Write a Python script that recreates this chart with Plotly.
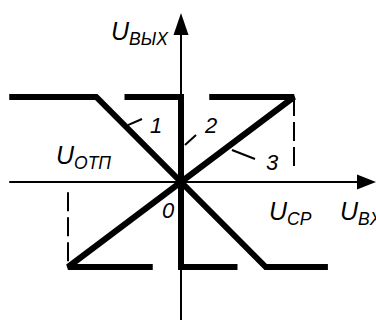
import plotly.graph_objects as go

# характеристики (в относительных единицах: насыщение = 1, U_ср = 1)
x1 = [-1.52, -0.75, 0.75, 1.3]
y1 = [1, 1, -1, -1]
x2 = [-0.5, 0, 0, 0.5]
y2 = [1, 1, -1, -1]
x3 = [-0.25, -1, 1, 0.25]
y3 = [-1, -1, 1, 1]

# пунктирные выноски
dash_x = [[1, 1], [-1, -1]]
dash_y = [[1, 0.12], [-0.12, -1]]

# оси
axis_x = [-1.52, 1.6]
axis_y = [-1.7, 1.8]

# выноски номеров кривых
leader_x = [[-0.47, -0.345], [0.035, 0.133], [0.451, 0.655]]
leader_y = [[0.67, 0.741], [0.435, 0.553], [0.376, 0.27]]
numbers = ["1", "2", "3"]
num_pos = [(-0.22, 0.67), (0.26, 0.67), (0.81, 0.235)]

# пиксели на единицу
kx = 113.0
ky = 85.0

fig = go.Figure()

black = "#000000"

# ось X и ось Y
fig.add_trace(go.Scatter(x=axis_x, y=[0, 0], mode="lines",
                         line=dict(color=black, width=2)))
fig.add_trace(go.Scatter(x=[0, 0], y=axis_y, mode="lines",
                         line=dict(color=black, width=2)))
# стрелки
tip_x = 195 / kx
tip_y = 169 / ky
fig.add_trace(go.Scatter(x=[tip_x, tip_x - 19 / kx, tip_x - 19 / kx, tip_x],
                         y=[0, 7.5 / ky, -7.5 / ky, 0],
                         mode="lines", fill="toself", fillcolor=black,
                         line=dict(color=black, width=0)))
fig.add_trace(go.Scatter(x=[0, 7.5 / kx, -7.5 / kx, 0],
                         y=[tip_y, tip_y - 22 / ky, tip_y - 22 / ky, tip_y],
                         mode="lines", fill="toself", fillcolor=black,
                         line=dict(color=black, width=0)))

# пунктир
for dx, dy in zip(dash_x, dash_y):
    fig.add_trace(go.Scatter(x=dx, y=dy, mode="lines",
                             line=dict(color=black, width=2, dash="19px,6px")))

# выноски
for lx, ly in zip(leader_x, leader_y):
    fig.add_trace(go.Scatter(x=lx, y=ly, mode="lines",
                             line=dict(color=black, width=2)))

# кривые 1, 2, 3
for xx, yy in [(x1, y1), (x2, y2), (x3, y3)]:
    fig.add_trace(go.Scatter(x=xx, y=yy, mode="lines",
                             line=dict(color=black, width=6)))

font_u = dict(family="Liberation Sans, Arial", size=25, color=black)
font_n = dict(family="Liberation Sans, Arial", size=22, color=black)

ann = []
for t, (ax_, ay_) in zip(numbers, num_pos):
    ann.append(dict(x=ax_, y=ay_, text="<i>" + t + "</i>", showarrow=False, font=font_n))
ann.append(dict(x=-0.115, y=-0.34, text="<i>0</i>", showarrow=False, font=font_n))
ann.append(dict(x=-0.363, y=1.75, text="<i>U<sub>ВЫХ</sub></i>", showarrow=False, font=font_u))
ann.append(dict(x=-0.867, y=0.3, text="<i>U<sub>ОТП</sub></i>", showarrow=False, font=font_u))
ann.append(dict(x=0.973, y=-0.37, text="<i>U<sub>CP</sub></i>", showarrow=False, font=font_u))
ann.append(dict(x=1.39, y=-0.37, text="<i>U<sub>BX</sub></i>", showarrow=False,
                xanchor="left", font=font_u))

fig.update_layout(
    width=376, height=320,
    margin=dict(l=0, r=0, t=0, b=0),
    paper_bgcolor="white", plot_bgcolor="white",
    showlegend=False,
    xaxis=dict(range=[-181 / kx, 195 / kx], visible=False, fixedrange=True),
    yaxis=dict(range=[-138 / ky, 182 / ky], visible=False, fixedrange=True),
    annotations=ann,
)

# убрать отступ страницы и панель инструментов
fig.write_html("out.html", config={"displayModeBar": False},
               post_script="document.body.style.margin='0';")
